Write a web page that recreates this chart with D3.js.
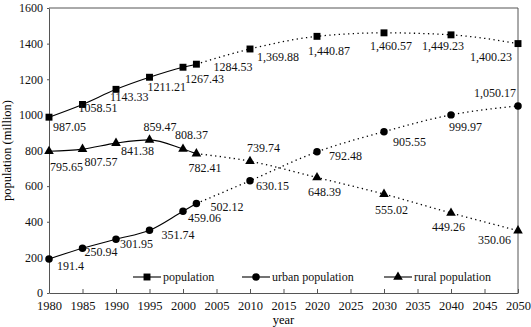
<!DOCTYPE html>
<html>
<head>
<script src="https://cdn.jsdelivr.net/npm/d3@7"></script>
<style>
  body { margin: 0; background: #fff; }
  svg text { font-family: "Liberation Serif", "Times New Roman", serif; }
</style>
</head>
<body>
<div id="chart"></div>
<script>
    var years = [1980, 1985, 1990, 1995, 2000, 2002, 2010, 2020, 2030, 2040, 2050];
    var population = [987.05, 1058.51, 1143.33, 1211.21, 1267.43, 1284.53, 1369.88, 1440.87, 1460.57, 1449.23, 1400.23];
    var urban = [191.4, 250.94, 301.95, 351.74, 459.06, 502.12, 630.15, 792.48, 905.55, 999.97, 1050.17];
    var rural = [795.65, 807.57, 841.38, 859.47, 808.37, 782.41, 739.74, 648.39, 555.02, 449.26, 350.06];
    var popLabels = ['987.05', '1058.51', '1143.33', '1211.21', '1267.43', '1284.53', '1,369.88', '1,440.87', '1,460.57', '1,449.23', '1,400.23'];
    var urbanLabels = ['191.4', '250.94', '301.95', '351.74', '459.06', '502.12', '630.15', '792.48', '905.55', '999.97', '1,050.17'];
    var ruralLabels = ['795.65', '807.57', '841.38', '859.47', '808.37', '782.41', '739.74', '648.39', '555.02', '449.26', '350.06'];
    var xTicks = d3.range(1980, 2051, 5);
    var yTicks = d3.range(0, 1601, 200);
    var lastObserved = 2002;

    // label offsets (dx, dy) from each point, picked by eye
    var popOff = [[4, 14], [-4, 8], [-6, 12], [-2, 14], [2, 16], [17, 7], [7, 12], [-9, 19], [-14, 17], [-29, 15], [-48, 17]];
    var urbanOff = [[8, 11], [2, 8], [4, 9], [12, 9], [5, 11], [14, 7], [6, 9], [12, 8], [9, 14], [-2, 16], [-44, -9]];
    var ruralOff = [[1, 20], [2, 17], [5, 12], [-6, -9], [-8, -10], [-8, 18], [-3, -9], [-9, 18], [-9, 20], [-19, 18], [-40, 13]];

    var width = 531, height = 327;
    var svg = d3.select('#chart').append('svg')
        .attr('width', width)
        .attr('height', height);

    var x = d3.scaleLinear().domain([1980, 2050]).range([49, 518]);
    var y = d3.scaleLinear().domain([0, 1600]).range([293, 8]);

    var axisColor = '#555';

    // frame (top and right)
    svg.append('path')
        .attr('d', 'M' + x(1980) + ',' + y(1600) + 'H' + x(2050) + 'V' + y(0))
        .attr('fill', 'none')
        .attr('stroke', axisColor);

    var xAxis = svg.append('g')
        .attr('transform', 'translate(0,' + y(0) + ')')
        .call(d3.axisBottom(x).tickValues(xTicks).tickFormat(d3.format('d')).tickSizeInner(-4).tickSizeOuter(0).tickPadding(8));
    xAxis.select('.domain').attr('stroke', axisColor);
    xAxis.selectAll('.tick line').attr('stroke', axisColor);
    xAxis.selectAll('text').attr('font-size', 12.5).attr('fill', '#111');

    var yAxis = svg.append('g')
        .attr('transform', 'translate(' + x(1980) + ',0)')
        .call(d3.axisLeft(y).tickValues(yTicks).tickFormat(d3.format('d')).tickSizeInner(2).tickSizeOuter(0).tickPadding(4));
    yAxis.select('.domain').attr('stroke', axisColor);
    yAxis.selectAll('.tick line').attr('stroke', axisColor);
    yAxis.selectAll('text').attr('font-size', 12).attr('fill', '#111');

    svg.selectAll('g.tick text').style('font-family', '"Liberation Serif", serif');

    svg.append('text')
        .attr('x', (x(1980) + x(2050)) / 2)
        .attr('y', 324)
        .attr('text-anchor', 'middle')
        .attr('font-size', 12.5)
        .text('year');

    svg.append('text')
        .attr('transform', 'translate(11,' + ((y(0) + y(1600)) / 2) + ') rotate(-90)')
        .attr('text-anchor', 'middle')
        .attr('font-size', 12.5)
        .text('population (million)');

    var series = [
        { name: 'population', values: population, labels: popLabels, off: popOff, symbol: d3.symbolSquare, size: 48 },
        { name: 'urban population', values: urban, labels: urbanLabels, off: urbanOff, symbol: d3.symbolCircle, size: 44 },
        { name: 'rural population', values: rural, labels: ruralLabels, off: ruralOff, symbol: d3.symbolTriangle, size: 40 }
    ];

    var line = d3.line()
        .x(function(d) { return x(d.year); })
        .y(function(d) { return y(d.value); })
        .curve(d3.curveMonotoneX);

    series.forEach(function(s) {
        var pts = years.map(function(yr, i) { return { year: yr, value: s.values[i], label: s.labels[i], off: s.off[i] }; });
        var past = pts.filter(function(d) { return d.year <= lastObserved; });
        var future = pts.filter(function(d) { return d.year >= lastObserved; });

        svg.append('path')
            .attr('d', line(past))
            .attr('fill', 'none')
            .attr('stroke', '#000')
            .attr('stroke-width', 1.1);

        svg.append('path')
            .attr('d', line(future))
            .attr('fill', 'none')
            .attr('stroke', '#000')
            .attr('stroke-width', 1.3)
            .attr('stroke-dasharray', '1.3,3.4');

        svg.selectAll(null)
            .data(pts)
            .enter()
            .append('path')
            .attr('transform', function(d) { return 'translate(' + x(d.year) + ',' + y(d.value) + ')'; })
            .attr('d', d3.symbol().type(s.symbol).size(s.size))
            .attr('fill', '#000');

        svg.selectAll(null)
            .data(pts)
            .enter()
            .append('text')
            .attr('x', function(d) { return x(d.year) + d.off[0]; })
            .attr('y', function(d) { return y(d.value) + d.off[1]; })
            .attr('font-size', 12)
            .attr('fill', '#111')
            .text(function(d) { return d.label; });
    });

    // legend
    var legendX = [133, 242, 384];
    var legend = svg.append('g');
    var entries = legend.selectAll('g')
        .data(series)
        .enter()
        .append('g')
        .attr('transform', function(d, i) { return 'translate(' + legendX[i] + ',277)'; });

    entries.append('line')
        .attr('x1', 0).attr('x2', 28)
        .attr('stroke', '#000')
        .attr('stroke-width', 1.1);

    entries.append('path')
        .attr('transform', 'translate(14,0)')
        .attr('d', function(d) { return d3.symbol().type(d.symbol).size(d.size)(); })
        .attr('fill', '#000');

    entries.append('text')
        .attr('x', 30)
        .attr('dy', '0.35em')
        .attr('font-size', 12)
        .attr('fill', '#111')
        .text(function(d) { return d.name; });
</script>
</body>
</html>
